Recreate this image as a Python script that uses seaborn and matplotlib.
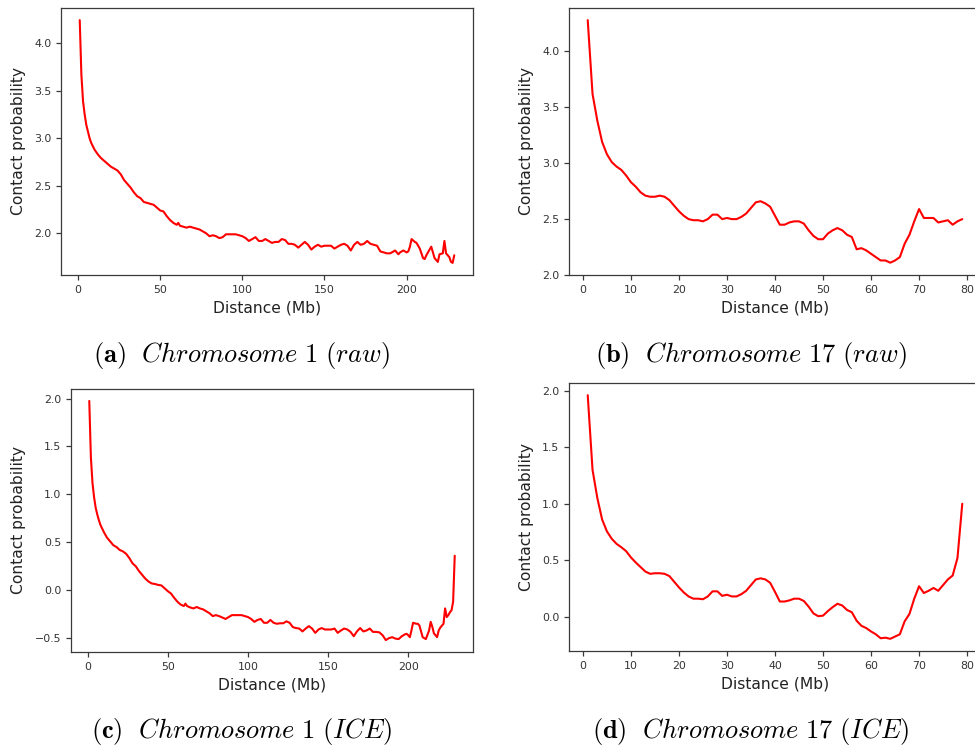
import matplotlib
matplotlib.use("Agg")
import matplotlib.pyplot as plt
import seaborn as sns

# Chromosome 1, raw contact map: mean log contact per distance
dist_chr1_raw = [1, 2, 3, 4, 5, 6, 7, 8, 10, 12, 14, 16, 18, 20, 22, 24, 26, 28, 30, 32,
                 34, 36, 38, 40, 42, 44, 46, 48, 50, 52, 54, 56, 58, 60, 61, 62, 64, 66, 68, 70,
                 72, 74, 76, 78, 80, 82, 84, 86, 88, 90, 92, 94, 96, 98, 100, 102, 104, 106, 108, 110,
                 112, 114, 116, 118, 120, 122, 124, 126, 128, 130, 132, 134, 136, 138, 140, 142, 144, 146, 148, 150,
                 152, 154, 156, 158, 160, 162, 164, 166, 168, 170, 172, 174, 176, 178, 180, 182,
                 184, 186, 188, 190, 192, 193, 195, 196, 198, 200, 201, 202, 203, 205, 206, 208,
                 210, 211, 212, 214, 215, 216, 217, 219, 220, 222, 223, 224, 226, 227, 228, 229]
prob_chr1_raw = [4.24, 3.67, 3.39, 3.25, 3.14, 3.07, 3.00, 2.95, 2.88, 2.83, 2.79, 2.76, 2.73, 2.70, 2.68, 2.66, 2.62, 2.56, 2.52, 2.48,
                 2.43, 2.39, 2.37, 2.33, 2.32, 2.31, 2.30, 2.27, 2.24, 2.23, 2.18, 2.14, 2.11, 2.09, 2.11, 2.08, 2.07, 2.06, 2.07, 2.06,
                 2.05, 2.04, 2.02, 2.00, 1.97, 1.98, 1.97, 1.95, 1.96, 1.99, 1.99, 1.99, 1.99, 1.98, 1.97, 1.95, 1.92, 1.94, 1.96, 1.92,
                 1.92, 1.94, 1.92, 1.90, 1.91, 1.91, 1.94, 1.93, 1.89, 1.89, 1.88, 1.85, 1.88, 1.91, 1.88, 1.83, 1.86, 1.88, 1.86, 1.87,
                 1.87, 1.87, 1.84, 1.86, 1.88, 1.89, 1.87, 1.82, 1.88, 1.91, 1.88, 1.89, 1.92, 1.89, 1.88, 1.87,
                 1.81, 1.80, 1.79, 1.79, 1.81, 1.82, 1.78, 1.80, 1.82, 1.80, 1.81, 1.86, 1.94, 1.91, 1.90, 1.84,
                 1.74, 1.73, 1.77, 1.83, 1.86, 1.80, 1.74, 1.70, 1.78, 1.79, 1.92, 1.79, 1.75, 1.70, 1.69, 1.77]

# Chromosome 1 after ICE balancing
dist_chr1_ice = [1, 2, 3, 4, 5, 6, 7, 8, 10, 12, 14, 16, 18, 20, 22, 24, 26, 28, 30, 32,
                 34, 36, 38, 40, 42, 44, 46, 48, 50, 52, 54, 56, 58, 60, 61, 62, 64, 66, 68, 70,
                 72, 74, 76, 78, 80, 82, 84, 86, 88, 90, 92, 94, 96, 98, 100, 102, 104, 106, 108, 110,
                 112, 114, 116, 118, 120, 122, 124, 126, 128, 130, 132, 134, 136, 138, 140, 142, 144, 146, 148, 150,
                 152, 154, 156, 158, 160, 162, 164, 166, 168, 170, 172, 174, 176, 178, 180, 182,
                 184, 186, 188, 190, 192, 194, 196, 198, 199, 200, 201, 202, 203, 205, 206, 207,
                 208, 209, 211, 213, 214, 215, 216, 218, 219, 220, 221, 222, 223, 224, 225, 226, 227, 228, 229]
prob_chr1_ice = [1.975, 1.39, 1.12, 0.97, 0.86, 0.79, 0.73, 0.68, 0.61, 0.55, 0.51, 0.47, 0.45, 0.42, 0.405, 0.38, 0.335, 0.28, 0.25, 0.20,
                 0.16, 0.12, 0.09, 0.07, 0.065, 0.055, 0.05, 0.02, -0.01, -0.035, -0.08, -0.12, -0.15, -0.165, -0.14, -0.165, -0.18, -0.19, -0.175, -0.19,
                 -0.20, -0.22, -0.24, -0.27, -0.26, -0.27, -0.285, -0.30, -0.28, -0.26, -0.26, -0.26, -0.26, -0.27, -0.28, -0.30, -0.33, -0.31, -0.30, -0.34,
                 -0.34, -0.31, -0.34, -0.35, -0.345, -0.345, -0.325, -0.34, -0.385, -0.395, -0.40, -0.43, -0.40, -0.375, -0.40, -0.445, -0.41, -0.395, -0.41, -0.41,
                 -0.41, -0.40, -0.445, -0.42, -0.40, -0.41, -0.435, -0.48, -0.43, -0.395, -0.43, -0.42, -0.40, -0.435, -0.435, -0.44,
                 -0.47, -0.52, -0.50, -0.49, -0.505, -0.51, -0.48, -0.46, -0.455, -0.47, -0.49, -0.42, -0.34, -0.35, -0.35, -0.37,
                 -0.43, -0.49, -0.51, -0.42, -0.33, -0.38, -0.45, -0.49, -0.42, -0.39, -0.37, -0.35, -0.19, -0.28, -0.26, -0.23, -0.21, -0.12, 0.36]

# Chromosome 17, one bin per Mb
dist_chr17 = list(range(1, 80))
prob_chr17_raw = [4.28, 3.62, 3.38, 3.19, 3.08, 3.01, 2.97, 2.94, 2.89, 2.83,
                  2.79, 2.74, 2.71, 2.70, 2.70, 2.71, 2.70, 2.67, 2.62, 2.57,
                  2.53, 2.50, 2.49, 2.49, 2.48, 2.50, 2.54, 2.54, 2.50, 2.51,
                  2.50, 2.50, 2.52, 2.55, 2.60, 2.65, 2.66, 2.64, 2.61, 2.53,
                  2.45, 2.45, 2.47, 2.48, 2.48, 2.46, 2.40, 2.35, 2.32, 2.32,
                  2.37, 2.40, 2.42, 2.40, 2.36, 2.34, 2.23, 2.24, 2.22, 2.19,
                  2.16, 2.13, 2.13, 2.11, 2.13, 2.16, 2.28, 2.36, 2.48, 2.59,
                  2.51, 2.51, 2.51, 2.47, 2.48, 2.49, 2.45, 2.48, 2.50]
prob_chr17_ice = [1.96, 1.30, 1.05, 0.86, 0.755, 0.69, 0.645, 0.615, 0.58, 0.525,
                  0.48, 0.44, 0.40, 0.38, 0.385, 0.385, 0.38, 0.36, 0.31, 0.26,
                  0.215, 0.18, 0.16, 0.16, 0.155, 0.18, 0.225, 0.225, 0.185, 0.195,
                  0.18, 0.18, 0.20, 0.23, 0.28, 0.33, 0.34, 0.33, 0.30, 0.22,
                  0.135, 0.135, 0.145, 0.16, 0.16, 0.14, 0.09, 0.03, 0.005, 0.01,
                  0.05, 0.085, 0.115, 0.10, 0.06, 0.04, -0.035, -0.08, -0.10, -0.13,
                  -0.155, -0.19, -0.185, -0.195, -0.175, -0.155, -0.04, 0.025, 0.16, 0.27,
                  0.21, 0.23, 0.255, 0.23, 0.28, 0.33, 0.365, 0.52, 1.00]

captions = [r"$\mathbf{(a)}\ \ \mathit{Chromosome\ 1\ (raw)}$",
            r"$\mathbf{(b)}\ \ \mathit{Chromosome\ 17\ (raw)}$",
            r"$\mathbf{(c)}\ \ \mathit{Chromosome\ 1\ (ICE)}$",
            r"$\mathbf{(d)}\ \ \mathit{Chromosome\ 17\ (ICE)}$"]

sns.set_style("ticks")
plt.rcParams.update({
    "font.family": ["DejaVu Sans"],
    "mathtext.fontset": "cm",
    "axes.edgecolor": "#3a3a3a",
    "axes.linewidth": 0.9,
    "xtick.color": "#3a3a3a",
    "ytick.color": "#3a3a3a",
    "xtick.labelcolor": "#333333",
    "ytick.labelcolor": "#333333",
    "xtick.major.size": 3.5,
    "ytick.major.size": 3.5,
    "xtick.major.width": 0.9,
    "ytick.major.width": 0.9,
    "xtick.labelsize": 7.9,
    "ytick.labelsize": 7.9,
    "axes.labelsize": 11.2,
    "axes.labelcolor": "#222222",
})

fig = plt.figure(figsize=(9.75, 7.49), dpi=100)
W, H = 975, 749

def place(left, top, right, bottom):
    return [left / W, 1 - bottom / H, (right - left) / W, (bottom - top) / H]

ax_a = fig.add_axes(place(61, 8, 473, 275))
ax_b = fig.add_axes(place(569, 8, 981, 275))
ax_c = fig.add_axes(place(71, 389, 473, 652))
ax_d = fig.add_axes(place(569, 383, 981, 651))

panels = [
    (ax_a, dist_chr1_raw, prob_chr1_raw),
    (ax_b, dist_chr17, prob_chr17_raw),
    (ax_c, dist_chr1_ice, prob_chr1_ice),
    (ax_d, dist_chr17, prob_chr17_ice),
]
for ax, xs, ys in panels:
    sns.lineplot(x=xs, y=ys, ax=ax, color="red", linewidth=1.5)
    ax.set_xlabel("Distance (Mb)", labelpad=4)
    ax.set_ylabel("Contact probability", labelpad=6)

ax_a.set_yticks([2.0, 2.5, 3.0, 3.5, 4.0])
ax_b.set_yticks([2.0, 2.5, 3.0, 3.5, 4.0])
ax_c.set_yticks([-0.5, 0.0, 0.5, 1.0, 1.5, 2.0])
ax_d.set_yticks([0.0, 0.5, 1.0, 1.5, 2.0])
for ax in (ax_b, ax_d):
    ax.set_xticks([0, 10, 20, 30, 40, 50, 60, 70, 80])
for ax in (ax_a, ax_c):
    ax.set_xticks([0, 50, 100, 150, 200])

cap_pos = [(0.248, 0.526), (0.770, 0.526), (0.248, 0.024), (0.770, 0.024)]
for (cx, cy), text in zip(cap_pos, captions):
    fig.text(cx, cy, text, ha="center", va="center", fontsize=19, color="black")

fig.savefig("out.png", dpi=100)
